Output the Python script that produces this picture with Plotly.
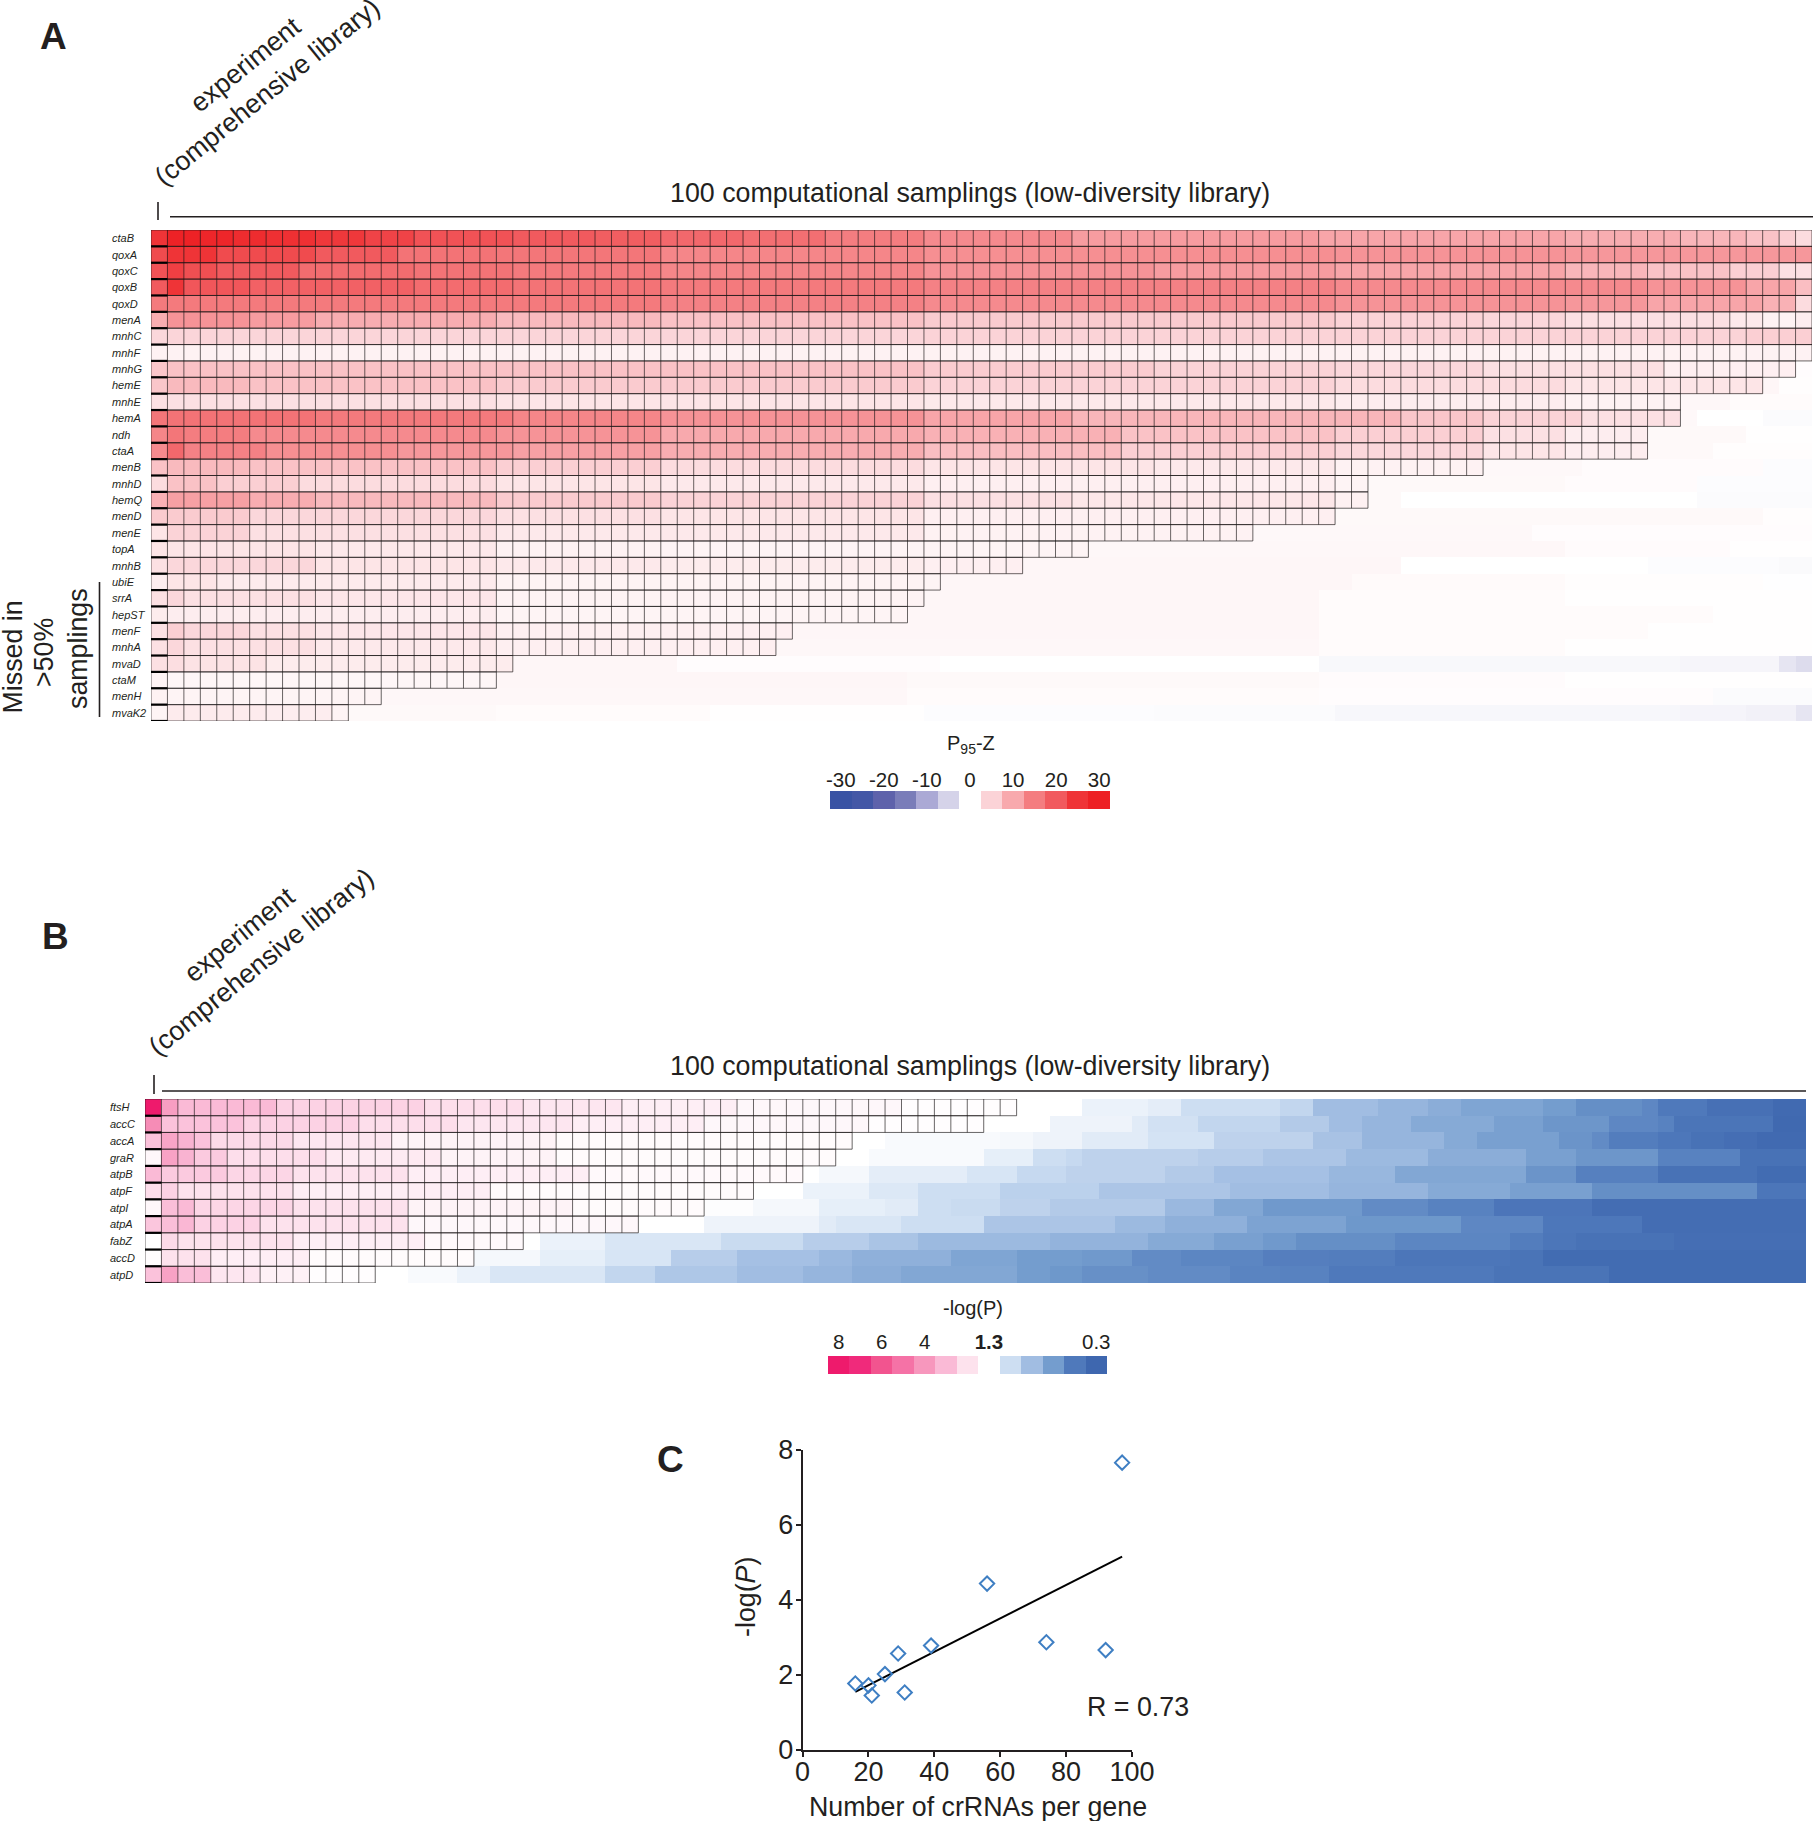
import plotly.graph_objects as go

W, H = 1813, 1821
INK = "#231f20"
FONT = "Liberation Sans, Arial, sans-serif"

def steps(pairs):
    out, start = [], 0
    for end, v in pairs:
        out += [v] * (end + 1 - start)
        start = end + 1
    return out

# ---- Panel A: P95-Z, column 0 = experiment, 1-100 = samplings
genes_a = ["ctaB","qoxA","qoxC","qoxB","qoxD","menA","mnhC","mnhF","mnhG","hemE","mnhE","hemA","ndh","ctaA","menB",
           "mnhD","hemQ","menD","menE","topA","mnhB","ubiE","srrA","hepST","menF","mnhA","mvaD","ctaM","menH","mvaK2"]
significant_a = [101,101,101,101,101,101,101,101,100,98,93,93,91,91,81,74,74,72,67,57,53,48,47,46,39,38,22,21,14,12]

ctaB = steps([(0,25),(2,29.5),(4,28.5),(6,27),(9,26),(12,24.5),(15,23),(21,21),(26,20),(30,19.5),(35,18),(40,17),(46,15),(55,13.5),(70,11.5),(85,10.5),(92,9.5),(96,8.5),(98,7),(99,5.5),(100,4)])
qoxA = steps([(0,22),(3,25),(9,22),(14,20),(20,16.5),(30,16),(46,14),(71,13),(85,12.5),(100,12)])
qoxC = steps([(0,21),(1,23.5),(3,21.5),(8,20),(15,17.5),(21,16.5),(30,15.5),(46,14),(60,12.5),(71,11.5),(85,10.5),(90,8.5),(95,7),(98,5.5),(100,3.5)])
qoxB = steps([(0,20),(1,25),(5,20.5),(15,19),(21,17.5),(30,16.5),(46,15.5),(71,14.5),(90,13.5),(96,12.5),(99,10.5),(100,7.5)])
qoxD = steps([(0,15.5),(30,15.5),(46,14.5),(71,13.5),(85,12.5),(90,12),(97,10.5),(99,9),(100,4)])
menA = steps([(0,9.5),(5,12.5),(9,11.5),(20,9.5),(30,8),(46,7),(71,6),(80,5),(85,4.5),(95,3.5),(97,2.5),(99,1.5),(100,2)])
mnhC = steps([(0,4.5),(46,4.8),(96,5),(100,5.5)])
mnhF = steps([(100,1.5)])
mnhG = steps([(0,6.5),(46,7),(60,5.8),(71,5),(80,4.5),(91,3.5),(99,1.8),(100,.3)])
hemE = steps([(0,6.5),(5,8),(20,7),(46,6),(71,5),(85,4),(97,3),(98,1),(100,.2)])
mnhE = steps([(0,3.5),(20,3.5),(46,3),(71,2.5),(85,2),(92,1.5),(95,.9),(100,.5)])
hemA = steps([(0,16),(9,16.5),(21,15.5),(30,14),(46,12.5),(55,10.5),(75,8.5),(80,6.5),(86,5),(92,3.5),(93,.8),(97,0),(100,-.5)])
ndh = steps([(0,14),(1,16),(5,15),(20,13.5),(30,12.5),(46,10),(58,9),(71,7),(80,5.5),(85,3.5),(90,2),(96,.7),(100,.1)])
ctaA = steps([(0,13.5),(1,18),(6,14.5),(14,13),(21,12),(30,11),(46,9.5),(58,7.5),(71,5.5),(80,4.5),(85,3),(90,2),(94,.7),(100,.2)])
menB = steps([(0,7),(5,8),(20,7),(30,5.5),(46,4),(60,3),(71,2.5),(80,1.5),(86,.8),(97,.4),(100,-.3)])
mnhD = steps([(0,4),(3,7),(8,5.5),(20,4),(30,3),(46,2.5),(71,1.8),(73,1.2),(85,.7),(93,.4),(100,-.3)])
hemQ = steps([(0,9),(5,11),(9,9.5),(20,8),(30,6),(46,5),(55,3.5),(71,2.7),(73,1.6),(75,.7),(93,.05),(100,-.5)])
menD = steps([(0,6),(5,6),(20,4.5),(30,3.5),(46,3),(71,1.8),(97,.7),(100,.2)])
menE = steps([(0,3),(5,5),(20,3.5),(46,2.5),(66,1.5),(83,.8),(100,.3)])
topA = steps([(0,3),(9,3),(20,2.5),(30,1.5),(56,1.2),(85,.9),(95,.4),(100,.1)])
mnhB = steps([(0,3.5),(9,4.5),(20,3),(30,2.5),(46,2.2),(52,1.8),(75,1),(90,0),(98,-.3),(100,-.6)])
ubiE = steps([(0,2),(3,3),(20,2.3),(46,1.4),(47,1.3),(72,1),(85,.6),(97,.25),(100,-.1)])
srrA = steps([(0,3.5),(1,4.5),(9,3.5),(20,2.8),(46,1.4),(70,1),(85,.5),(100,.15)])
hepST = steps([(0,2.2),(20,2),(45,1.2),(70,1),(94,.5),(100,.15)])
menF = steps([(0,3.5),(1,5.5),(5,4.5),(9,3.5),(20,2.8),(38,1.8),(70,1),(90,.5),(100,.15)])
mnhA = steps([(0,3.5),(1,4.5),(9,3.5),(20,2.5),(37,1.8),(70,.9),(85,.5),(100,.15)])
mvaD = steps([(0,3.5),(1,3.8),(6,3.2),(21,2.2),(31,1),(47,.3),(70,.05),(92,-.8),(98,-1.1),(99,-3),(100,-4)])
ctaM = steps([(0,1.2),(20,1),(45,1),(70,.7),(85,.4),(100,.15)])
menH = steps([(0,1.5),(13,1.2),(20,.9),(45,.9),(70,.5),(94,.3),(100,-.5)])
mvaK2 = steps([(0,1.2),(6,2.3),(10,2),(11,1.2),(20,.7),(33,.5),(46,.15),(60,-.3),(71,-.5),(92,-.9),(96,-1.2),(99,-1.6),(100,-3)])

z_a = [ctaB,qoxA,qoxC,qoxB,qoxD,menA,mnhC,mnhF,mnhG,hemE,mnhE,hemA,ndh,ctaA,menB,mnhD,hemQ,menD,menE,topA,mnhB,
       ubiE,srrA,hepST,menF,mnhA,mvaD,ctaM,menH,mvaK2]

# ---- Panel B: -log(P)
genes_b = ["ftsH","accC","accA","graR","atpB","atpF","atpI","atpA","fabZ","accD","atpD"]
significant_b = [53,51,43,42,40,37,34,30,23,20,14]

ftsH = steps([(0,8),(1,3.8),(7,3),(16,2.4),(22,2.1),(28,1.9),(35,1.7),(45,1.5),(52,1.35),(56,1.3),(60,1.22),(62,1.19),(68,1.1),(70,1.05),(74,.9),(77,.85),(79,.8),(84,.75),(86,.7),(90,.62),(91,.58),(94,.5),(98,.4),(100,.33)])
accC = steps([(0,4.3),(5,2.8),(12,2.4),(18,2.1),(25,1.9),(33,1.7),(43,1.5),(50,1.35),(54,1.3),(59,1.23),(60,1.18),(63,1.12),(68,1.05),(71,.98),(73,.9),(76,.85),(81,.78),(84,.72),(88,.66),(91,.58),(92,.55),(98,.45),(100,.32)])
accA = steps([(0,2.8),(1,3.6),(2,3.2),(3,2.8),(8,2.2),(14,1.9),(24,1.6),(42,1.4),(44,1.3),(51,1.27),(53,1.26),(56,1.23),(60,1.18),(64,1.13),(70,1.03),(73,.93),(78,.85),(80,.78),(85,.72),(87,.65),(88,.6),(91,.52),(93,.48),(95,.42),(97,.38),(100,.33)])
graR = steps([(0,1.5),(1,3.7),(2,3.2),(4,2.6),(10,2.1),(17,1.8),(24,1.6),(41,1.4),(43,1.3),(50,1.27),(53,1.2),(55,1.1),(56,1.07),(63,1.03),(67,1),(72,.95),(77,.88),(83,.8),(86,.72),(91,.66),(96,.55),(100,.42)])
atpB = steps([(0,3),(4,2.6),(8,2.3),(15,2),(26,1.7),(39,1.45),(40,1.3),(43,1.26),(49,1.19),(52,1.14),(55,1.07),(61,1.03),(64,.98),(71,.92),(75,.86),(83,.76),(86,.65),(91,.54),(97,.42),(100,.35)])
atpF = steps([(0,2.1),(1,2.4),(8,2),(20,1.7),(36,1.4),(39,1.3),(43,1.22),(46,1.16),(51,1.1),(57,1.02),(65,.95),(71,.9),(77,.85),(82,.78),(87,.72),(97,.62),(100,.47)])
atpI = steps([(0,1.5),(1,2.9),(2,3),(8,2.3),(15,2),(25,1.6),(33,1.4),(36,1.29),(40,1.26),(44,1.2),(46,1.18),(48,1.1),(51,1.08),(54,1.03),(61,.98),(64,.87),(67,.76),(73,.68),(77,.6),(81,.55),(87,.46),(100,.37)])
atpA = steps([(0,2.7),(1,2.9),(2,3.1),(6,2.4),(15,2),(29,1.5),(33,1.3),(40,1.23),(41,1.18),(45,1.15),(50,1.1),(58,.95),(61,.88),(66,.82),(72,.74),(79,.67),(84,.58),(90,.48),(100,.37)])
fabZ = steps([(0,1.3),(1,2.2),(8,2),(16,1.7),(22,1.45),(23,1.3),(27,1.22),(34,1.15),(39,1.08),(43,1),(46,.94),(54,.88),(60,.84),(64,.78),(67,.72),(69,.68),(75,.62),(82,.57),(84,.52),(86,.47),(92,.42),(100,.38)])
accD = steps([(0,1.35),(3,2),(9,1.7),(19,1.4),(23,1.26),(27,1.2),(31,1.14),(35,1),(40,.92),(42,.87),(48,.82),(52,.75),(56,.7),(59,.68),(62,.6),(67,.57),(71,.53),(75,.52),(82,.47),(84,.44),(100,.35)])
atpD = steps([(0,2.8),(1,3.7),(3,2.9),(6,1.9),(9,1.65),(13,1.35),(15,1.3),(18,1.27),(20,1.22),(27,1.15),(30,1.05),(35,.96),(39,.9),(42,.85),(45,.8),(52,.76),(54,.7),(56,.67),(60,.63),(65,.6),(68,.56),(71,.55),(81,.5),(88,.44),(100,.35)])

z_b = [ftsH,accC,accA,graR,atpB,atpF,atpI,atpA,fabZ,accD,atpD]

# ---- Panel C
crrnas = [16, 20, 21, 25, 29, 31, 39, 56, 74, 92, 97]
logp = [1.77, 1.72, 1.45, 2.02, 2.57, 1.53, 2.78, 4.43, 2.87, 2.66, 7.65]
fit_x = [16, 97]
fit_y = [1.55, 5.15]

# ---- Legends
legend_a_values = [-30,-25,-20,-15,-10,-5,0,5,10,15,20,25,30]
legend_a_colors = ["#3953a4","#4357a6","#5e62ab","#7a7db9","#aba9d5","#d5d3e9","#ffffff","#fbd3d7","#f8a9ad","#f47d80","#f15a5e","#ef3437","#ed2024"]
legend_a_ticks = [-30,-20,-10,0,10,20,30]
legend_b_values = [8,7,6,5,4,3,2,1.3,1.1,.9,.7,.5,.3]
legend_b_colors = ["#ee1a6c","#f02a7b","#f2548f","#f572a6","#f797bd","#fabad6","#fde2ed","#ffffff","#cddef2","#a1bde2","#749dce","#4f79bb","#3e67af"]
legend_b_ticks = {8:"8",6:"6",4:"4",1.3:"<b>1.3</b>",.3:"0.3"}

def X(p): return p / W
def Y(p): return 1 - p / H

scale_a = [[(v + 30) / 60, c] for v, c in zip(legend_a_values, legend_a_colors)]
scale_b = sorted([[(v - .3) / 7.7, c] for v, c in zip(legend_b_values, legend_b_colors)])

def grid(counts):
    xs, ys, xk, yk = [], [], [], []
    for i, n in enumerate(counts):
        xs += [-.5, n - .5, None, -.5, n - .5, None]
        ys += [i - .5, i - .5, None, i + .5, i + .5, None]
        for j in range(n + 1):
            xs += [j - .5, j - .5, None]
            ys += [i - .5, i + .5, None]
        xk += [-.5, .5, None]
        yk += [i + .5, i + .5, None]
    return xs, ys, xk, yk

fig = go.Figure()

def heat(z, counts, colorscale, zmin, zmax, ax):
    fig.add_trace(go.Heatmap(z=z, x=list(range(101)), y=list(range(len(z))), colorscale=colorscale, zmin=zmin, zmax=zmax,
                             showscale=False, hoverinfo="skip", xaxis="x" + ax, yaxis="y" + ax))
    xs, ys, xk, yk = grid(counts)
    fig.add_trace(go.Scatter(x=xs, y=ys, mode="lines", line=dict(color="rgba(25,22,22,0.65)", width=1),
                             hoverinfo="skip", showlegend=False, xaxis="x" + ax, yaxis="y" + ax))
    fig.add_trace(go.Scatter(x=xk, y=yk, mode="lines", line=dict(color="#000000", width=2.2),
                             hoverinfo="skip", showlegend=False, xaxis="x" + ax, yaxis="y" + ax))

heat(z_a, significant_a, scale_a, -30, 30, "")
heat(z_b, significant_b, scale_b, .3, 8, "2")

fig.add_trace(go.Heatmap(z=[legend_a_values], x=legend_a_values, y=[0], colorscale=scale_a, zmin=-30, zmax=30,
                         showscale=False, hoverinfo="skip", xaxis="x3", yaxis="y3"))
fig.add_trace(go.Heatmap(z=[legend_b_values], x=list(range(13)), y=[0], colorscale=scale_b, zmin=.3, zmax=8,
                         showscale=False, hoverinfo="skip", xaxis="x4", yaxis="y4"))

fig.add_trace(go.Scatter(x=fit_x, y=fit_y, mode="lines", line=dict(color="#000000", width=2),
                         showlegend=False, xaxis="x5", yaxis="y5"))
fig.add_trace(go.Scatter(x=crrnas, y=logp, mode="markers", showlegend=False, xaxis="x5", yaxis="y5",
                         marker=dict(symbol="diamond-open", size=11, color="#3f7fc3", line=dict(width=2, color="#3f7fc3"))))

hidden = dict(visible=False, fixedrange=True, automargin=False)
layout_axes = dict(
    xaxis=dict(hidden, domain=[X(151), X(1812)], range=[-.5, 100.5], anchor="y"),
    yaxis=dict(hidden, domain=[Y(721), Y(230)], range=[29.5, -.5], anchor="x"),
    xaxis2=dict(hidden, domain=[X(145), X(1806)], range=[-.5, 100.5], anchor="y2"),
    yaxis2=dict(hidden, domain=[Y(1283), Y(1099)], range=[10.5, -.5], anchor="x2"),
    xaxis3=dict(domain=[X(830), X(1110)], range=[-32.5, 32.5], anchor="y3", side="top", tickmode="array", automargin=False,
                tickvals=legend_a_ticks, ticktext=[str(t) for t in legend_a_ticks], ticks="", showline=False,
                showgrid=False, zeroline=False, ticklabelstandoff=-1, tickfont=dict(size=20.5, color=INK, family=FONT)),
    yaxis3=dict(hidden, domain=[Y(809), Y(791)], range=[-.5, .5], anchor="x3"),
    xaxis4=dict(domain=[X(828), X(1107)], range=[-.5, 12.5], anchor="y4", side="top", tickmode="array", automargin=False,
                tickvals=[legend_b_values.index(t) for t in legend_b_ticks], ticktext=list(legend_b_ticks.values()),
                ticks="", showline=False, showgrid=False, zeroline=False, ticklabelstandoff=2,
                tickfont=dict(size=20.5, color=INK, family=FONT)),
    yaxis4=dict(hidden, domain=[Y(1374), Y(1356)], range=[-.5, .5], anchor="x4"),
    xaxis5=dict(domain=[X(802.6), X(1132)], range=[0, 100], anchor="y5", dtick=20, ticks="outside", ticklen=5, tickwidth=2,
                tickcolor=INK, linecolor=INK, linewidth=2, showline=True, showgrid=False, zeroline=False, automargin=False,
                ticklabelstandoff=-8, tickfont=dict(size=27, color=INK, family=FONT)),
    yaxis5=dict(domain=[Y(1750), Y(1449.5)], range=[0, 8], anchor="x5", dtick=2, ticks="outside", ticklen=5, tickwidth=2,
                tickcolor=INK, linecolor=INK, linewidth=2, showline=True, showgrid=False, zeroline=False, automargin=False,
                ticklabelstandoff=-3, tickfont=dict(size=27, color=INK, family=FONT)),
)

def note(text, x, y, size=26.8, angle=0, color=INK, **kw):
    d = dict(text=text, x=X(x), y=Y(y), xref="paper", yref="paper", showarrow=False, textangle=angle,
             xanchor="center", yanchor="middle", font=dict(family=FONT, size=size, color=color))
    d.update(kw)
    return d

notes = [
    note("<b>A</b>", 53, 37, 37), note("<b>B</b>", 55, 936, 37), note("<b>C</b>", 670, 1459, 37),
    note("experiment<br>(comprehensive library)", 256, 78, 26.8, -39),
    note("experiment<br>(comprehensive library)", 250, 948, 26.8, -39),
    note("100 computational samplings (low-diversity library)", 970, 193),
    note("100 computational samplings (low-diversity library)", 970, 1066),
    note("Missed in", 12.5, 657, 26.8, -90), note("&gt;50%", 44, 653, 26.8, -90), note("samplings", 78, 649, 26.8, -90),
    note("P<sub>95</sub>-Z", 971, 745, 20), note("-log(P)", 973, 1308, 20),
    note("R = 0.73", 1138, 1707, 26.8),
    note("Number of crRNAs per gene", 978, 1807, 26.8),
    note("-log(<i>P</i>)", 746, 1597, 26.8, -90),
]
for i, g in enumerate(genes_a):
    notes.append(dict(text="<i>%s</i>" % g, x=X(110), y=i, xref="paper", yref="y", showarrow=False, xanchor="left",
                      yanchor="middle", font=dict(family=FONT, size=11, color=INK)))
for i, g in enumerate(genes_b):
    notes.append(dict(text="<i>%s</i>" % g, x=X(108), y=i, xref="paper", yref="y2", showarrow=False, xanchor="left",
                      yanchor="middle", font=dict(family=FONT, size=11, color=INK)))

def rule(x0, y0, x1, y1, width=1.6):
    return dict(type="line", xref="paper", yref="paper", x0=X(x0), y0=Y(y0), x1=X(x1), y1=Y(y1),
                line=dict(color=INK, width=width))

rules = [rule(158, 202, 158, 220), rule(170, 216.7, 1813, 216.7), rule(154, 1075, 154, 1094), rule(162, 1091, 1806, 1091),
         rule(99.5, 582, 99.5, 717)]

fig.update_layout(width=W, height=H, margin=dict(l=0, r=0, t=0, b=0, pad=0, autoexpand=False), paper_bgcolor="white",
                  plot_bgcolor="white", showlegend=False, annotations=notes, shapes=rules, **layout_axes)

fig.write_html("out.html", config=dict(displayModeBar=False),
               post_script="document.body.style.margin='0';document.documentElement.style.overflow='hidden';")
